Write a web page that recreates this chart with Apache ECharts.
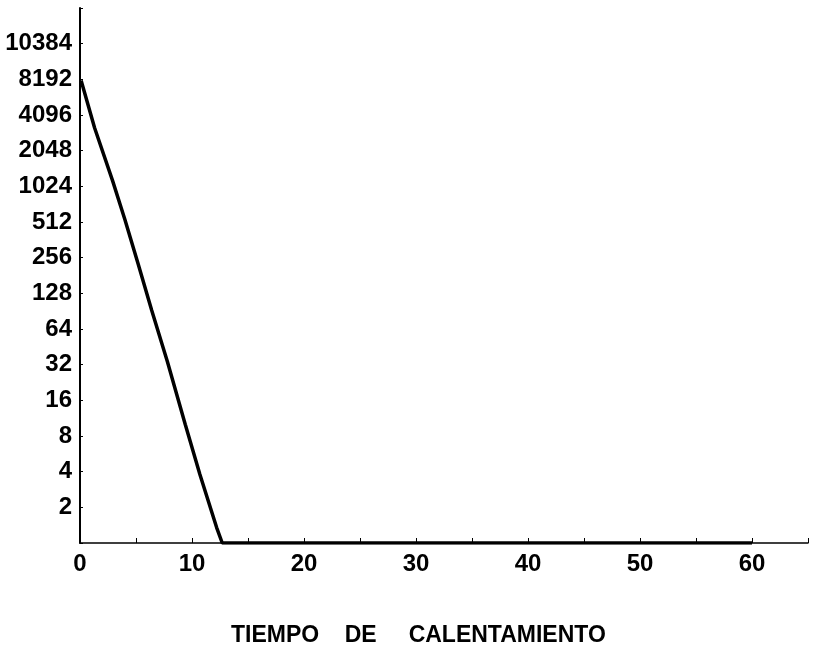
<!DOCTYPE html>
<html><head><meta charset="utf-8">
<script src="https://cdn.jsdelivr.net/npm/echarts@6/dist/echarts.min.js"></script>
<style>html,body{margin:0;padding:0;background:#fff}#c{width:814px;height:648px}</style>
</head><body><div id="c"></div>
<script>
// Data
var tiempo   = [0.1, 1.3, 2.9, 4.0, 5.2, 6.4, 7.8, 9.4, 10.7, 12.2, 12.7, 60];
var conteo   = [8000, 3200, 1150, 540, 225, 92, 34, 10, 3.8, 1.35, 1, 1];
var yTickValues = [2, 4, 8, 16, 32, 64, 128, 256, 512, 1024, 2048, 4096, 8192, 16384];
var yTickLabels = ['2','4','8','16','32','64','128','256','512','1024','2048','4096','8192','10384'];
var xTickLabels = ['0','10','20','30','40','50','60'];
var xTitle = 'TIEMPO    DE     CALENTAMIENTO';

var points = tiempo.map(function(t, i){ return [t, conteo[i]]; });
var font = 'Liberation Sans';
var chart = echarts.init(document.getElementById('c'));
chart.setOption({
  animation: false,
  backgroundColor: '#fff',
  title: {
    text: xTitle, left: 226, top: 619,
    textStyle: { color: '#000', fontFamily: font, fontWeight: 'bold', fontSize: 23 }
  },
  grid: { left: 80, right: 6, top: 8, bottom: 105, containLabel: false },
  xAxis: {
    type: 'value', min: 0, max: 65, interval: 5,
    axisLine: { lineStyle: { color: '#000', width: 1.5 } },
    axisTick: { inside: true, length: 5, lineStyle: { color: '#000', width: 1 } },
    splitLine: { show: false },
    axisLabel: {
      color: '#000', fontFamily: font, fontWeight: 'bold', fontSize: 24, margin: 9,
      formatter: function(v){ var s = String(v); return xTickLabels.indexOf(s) >= 0 ? s : ''; }
    }
  },
  yAxis: {
    type: 'log', logBase: 2, min: 1, max: 32768, interval: 1,
    axisLine: { lineStyle: { color: '#000', width: 2 } },
    axisTick: { inside: true, length: 3, lineStyle: { color: '#000', width: 1 } },
    splitLine: { show: false },
    axisLabel: {
      color: '#000', fontFamily: font, fontWeight: 'bold', fontSize: 24, margin: 8,
      formatter: function(v){ var i = yTickValues.indexOf(Math.round(v)); return i >= 0 ? yTickLabels[i] : ''; }
    }
  },
  series: [{
    type: 'line', data: points, symbol: 'none',
    lineStyle: { color: '#000', width: 3.5 }
  }]
});
</script></body></html>
